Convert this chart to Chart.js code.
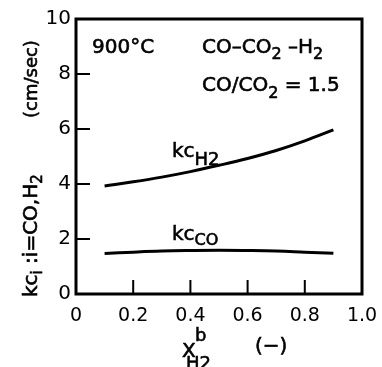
<!DOCTYPE html>
<html>
<head>
    <title>kc vs X_H2</title>
    <script src="https://cdn.jsdelivr.net/npm/chart.js"></script>
    <style>
        body { margin: 0; background: #fff; }
    </style>
</head>
<body>
    <canvas id="kcChart" width="382" height="367"></canvas>
    <script>
        // values
        const xH2 = [0.1, 0.2, 0.3, 0.4, 0.5, 0.6, 0.7, 0.8, 0.9];
        const kcH2 = [3.93, 4.08, 4.25, 4.45, 4.68, 4.93, 5.22, 5.57, 5.97];
        const kcCO = [1.47, 1.52, 1.56, 1.58, 1.59, 1.58, 1.56, 1.52, 1.48];
        const xTicks = [0.2, 0.4, 0.6, 0.8];
        const yTicks = [2, 4, 6, 8];

        const FONT = '"DejaVu Sans", sans-serif';

        function pts(xs, ys) {
            return xs.map((x, i) => ({ x: x, y: ys[i] }));
        }

        // draw a run of text pieces: [text, size, dy]
        function rich(ctx, parts, x, y) {
            let cx = x;
            parts.forEach(p => {
                ctx.font = p[1] + 'px ' + FONT;
                ctx.fillText(p[0], cx, y + (p[2] || 0));
                ctx.strokeText(p[0], cx, y + (p[2] || 0));
                cx += ctx.measureText(p[0]).width;
            });
        }

        const framePlugin = {
            id: 'frame',
            afterDatasetsDraw(chart) {
                const ctx = chart.ctx;
                const a = chart.chartArea;
                const xs = chart.scales.x, ys = chart.scales.y;
                ctx.save();
                ctx.strokeStyle = '#000';
                ctx.lineWidth = 3;
                ctx.strokeRect(a.left, a.top, a.right - a.left, a.bottom - a.top);
                ctx.lineWidth = 2;
                ctx.beginPath();
                xTicks.forEach(v => {
                    const px = xs.getPixelForValue(v);
                    ctx.moveTo(px, a.bottom);
                    ctx.lineTo(px, a.bottom - 14);
                });
                yTicks.forEach(v => {
                    const py = ys.getPixelForValue(v);
                    ctx.moveTo(a.left, py);
                    ctx.lineTo(a.left + 14, py);
                });
                ctx.stroke();

                ctx.fillStyle = '#000';
                ctx.lineWidth = 0.6;
                ctx.textBaseline = 'alphabetic';
                ctx.textAlign = 'left';
                // annotations
                rich(ctx, [['900°C', 20]], 92, 53);
                rich(ctx, [['CO–CO', 20], ['2', 16, 6], [' –H', 20], ['2', 16, 6]], 202, 53);
                rich(ctx, [['CO/CO', 20], ['2', 16, 7], [' = 1.5', 20]], 202, 91);
                rich(ctx, [['kc', 20], ['H2', 18, 8]], 172, 157);
                rich(ctx, [['kc', 20], ['CO', 16, 5]], 172, 240);

                // x axis title
                rich(ctx, [['X', 20]], 182, 357);
                rich(ctx, [['b', 18]], 195, 341);
                rich(ctx, [['H', 18], ['2', 18]], 186, 369);
                rich(ctx, [['(−)', 20]], 255, 352);

                // y axis title, rotated
                ctx.translate(37, 297);
                ctx.rotate(-Math.PI / 2);
                rich(ctx, [['kc', 20], ['i', 15, 5], [' :i=CO,H', 20], ['2', 15, 5]], 0, 0);
                rich(ctx, [['(cm/sec)', 18]], 297 - 118, 0);
                ctx.restore();
            }
        };

        const ctx = document.getElementById('kcChart').getContext('2d');
        new Chart(ctx, {
            type: 'line',
            data: {
                datasets: [{
                    label: 'kcH2',
                    data: pts(xH2, kcH2),
                    borderColor: '#000',
                    borderWidth: 3,
                    pointRadius: 0,
                    tension: 0.4,
                    fill: false
                }, {
                    label: 'kcCO',
                    data: pts(xH2, kcCO),
                    borderColor: '#000',
                    borderWidth: 3,
                    pointRadius: 0,
                    tension: 0.4,
                    fill: false
                }]
            },
            options: {
                responsive: false,
                animation: false,
                devicePixelRatio: 1,
                layout: { padding: { top: 19, right: 20, left: 0, bottom: 0 } },
                plugins: {
                    legend: { display: false },
                    tooltip: { enabled: false }
                },
                scales: {
                    x: {
                        type: 'linear',
                        min: 0,
                        max: 1,
                        grid: { display: false, drawTicks: false },
                        border: { display: false },
                        ticks: {
                            stepSize: 0.2,
                            color: '#000',
                            padding: 11,
                            maxRotation: 0,
                            font: { family: FONT, size: 19 },
                            callback: v => v === 0 ? '0' : v.toFixed(1)
                        },
                        afterFit: s => {
                            s.height = 73;
                            s.paddingLeft = 0;
                            s.paddingRight = 0;
                        }
                    },
                    y: {
                        min: 0,
                        max: 10,
                        grid: { display: false, drawTicks: false },
                        border: { display: false },
                        ticks: {
                            stepSize: 2,
                            color: '#000',
                            padding: 5,
                            font: { family: FONT, size: 20 }
                        },
                        afterFit: s => {
                            s.width = 76;
                            s.paddingTop = 0;
                            s.paddingBottom = 0;
                        }
                    }
                }
            },
            plugins: [framePlugin]
        });
    </script>
</body>
</html>
